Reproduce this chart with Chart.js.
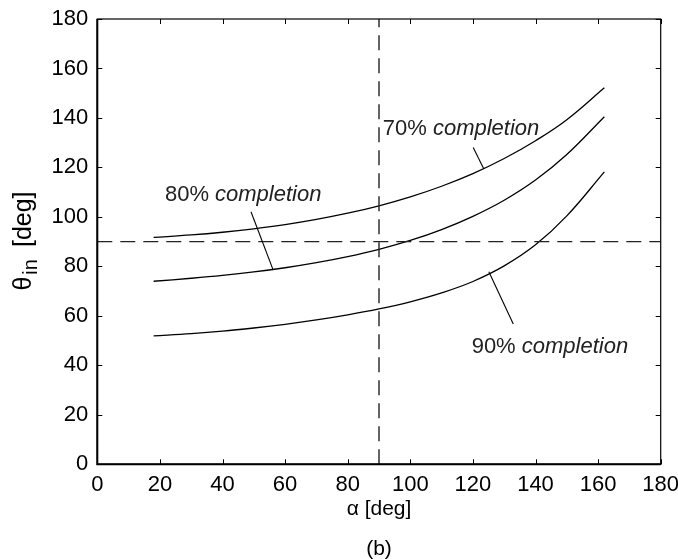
<!DOCTYPE html>
<html>
<head>
<meta charset="utf-8">
<script src="https://cdn.jsdelivr.net/npm/chart.js@4.4.1/dist/chart.umd.min.js"></script>
<style>
  html, body { margin: 0; padding: 0; background: #fff; }
</style>
</head>
<body>
<canvas id="chart" width="678" height="559"></canvas>
<script>
// incidence angle vs. alpha
var alpha = [18, 30, 40, 50, 60, 70, 80, 90, 100, 110, 120, 130, 140, 150, 162];
var theta70 = [91.7, 92.7, 93.8, 95.2, 96.9, 99.0, 101.5, 104.5, 108.1, 112.4, 117.5, 123.6, 130.8, 139.3, 152.2];
var theta80 = [74.0, 75.2, 76.35, 77.75, 79.45, 81.5, 83.95, 86.9, 90.5, 94.9, 100.25, 106.75, 114.9, 125.2, 140.5];
var theta90 = [51.9, 52.8, 53.8, 55.1, 56.6, 58.35, 60.4, 62.8, 65.7, 69.3, 73.9, 80.2, 88.7, 100.4, 118.2];
var xTicks = [0, 20, 40, 60, 80, 100, 120, 140, 160, 180];
var yTicks = [0, 20, 40, 60, 80, 100, 120, 140, 160, 180];
var refAlpha = 90;
var refTheta = 90;

// curve labels and their leader lines (data coords)
var curveLabels = [
  { pct: '70% ', word: 'completion', x: 91.2, y: 133.1, from: [120.1, 128.1], to: [123.5, 119.4] },
  { pct: '80% ', word: 'completion', x: 21.6, y: 106.5, from: [49.1, 102.1], to: [56.2, 78.5] },
  { pct: '90% ', word: 'completion', x: 119.6, y: 44.9, from: [125.1, 77.8], to: [132.9, 56.7] }
];

function pts(ys) {
  return alpha.map(function(a, i) { return { x: a, y: ys[i] }; });
}

function curve(ys) {
  return {
    data: pts(ys),
    borderColor: '#000',
    borderWidth: 1.3,
    pointRadius: 0,
    fill: false,
    tension: 0.4
  };
}

function dashed(data) {
  return {
    data: data,
    borderColor: '#222',
    borderWidth: 1.4,
    borderDash: [15, 8],
    pointRadius: 0,
    fill: false,
    tension: 0
  };
}

var FONT = '"Liberation Sans", Arial, sans-serif';

var decorations = {
  id: 'decorations',
  afterDraw: function(chart) {
    var ctx = chart.ctx;
    var a = chart.chartArea;
    var xs = chart.scales.x, ys = chart.scales.y;
    ctx.save();

    // box
    ctx.strokeStyle = '#000';
    ctx.lineWidth = 1.2;
    ctx.strokeRect(a.left, a.top, a.right - a.left, a.bottom - a.top);
    ctx.lineWidth = 2;
    ctx.beginPath();
    ctx.moveTo(a.left, a.top);
    ctx.lineTo(a.left, a.bottom);
    ctx.lineTo(a.right, a.bottom);
    ctx.stroke();

    // inward ticks on all sides
    ctx.lineWidth = 1;
    ctx.beginPath();
    xTicks.forEach(function(v) {
      var px = Math.round(xs.getPixelForValue(v)) + 0.5;
      ctx.moveTo(px, a.bottom); ctx.lineTo(px, a.bottom - 5);
      ctx.moveTo(px, a.top); ctx.lineTo(px, a.top + 5);
    });
    yTicks.forEach(function(v) {
      var py = Math.round(ys.getPixelForValue(v)) + 0.5;
      ctx.moveTo(a.left, py); ctx.lineTo(a.left + 5, py);
      ctx.moveTo(a.right, py); ctx.lineTo(a.right - 5, py);
    });
    ctx.stroke();

    // leader lines + labels
    ctx.strokeStyle = '#000';
    ctx.lineWidth = 1.1;
    ctx.fillStyle = '#222';
    ctx.textBaseline = 'alphabetic';
    ctx.textAlign = 'left';
    curveLabels.forEach(function(l) {
      ctx.beginPath();
      ctx.moveTo(xs.getPixelForValue(l.from[0]), ys.getPixelForValue(l.from[1]));
      ctx.lineTo(xs.getPixelForValue(l.to[0]), ys.getPixelForValue(l.to[1]));
      ctx.stroke();
      var px = xs.getPixelForValue(l.x), py = ys.getPixelForValue(l.y);
      ctx.font = '22px ' + FONT;
      ctx.fillText(l.pct, px, py);
      var w = ctx.measureText(l.pct).width;
      ctx.font = 'italic 22px ' + FONT;
      ctx.fillText(l.word, px + w, py);
    });

    // axis titles
    ctx.fillStyle = '#000';
    ctx.textAlign = 'center';
    ctx.font = '21px ' + FONT;
    ctx.fillText('\u03b1 [deg]', 379, 515);
    ctx.fillText('(b)', 379, 555);

    ctx.translate(31, 241);
    ctx.rotate(-Math.PI / 2);
    ctx.textAlign = 'left';
    ctx.font = '20px ' + FONT;
    var wSub = ctx.measureText('in').width;
    ctx.font = '25px ' + FONT;
    var wTh = ctx.measureText('\u03b8').width;
    var wDeg = ctx.measureText('[deg]').width;
    var gap1 = 2, gap2 = 12;
    var x0 = -(wTh + gap1 + wSub + gap2 + wDeg) / 2;
    ctx.fillText('\u03b8', x0, 0);
    ctx.font = '20px ' + FONT;
    ctx.fillText('in', x0 + wTh + gap1, 6);
    ctx.font = '25px ' + FONT;
    ctx.fillText('[deg]', x0 + wTh + gap1 + wSub + gap2, 0);

    ctx.restore();
  }
};

new Chart(document.getElementById('chart').getContext('2d'), {
  type: 'line',
  data: {
    datasets: [
      dashed([{ x: refAlpha, y: 0 }, { x: refAlpha, y: 180 }]),
      dashed([{ x: 0, y: refTheta }, { x: 180, y: refTheta }]),
      curve(theta70),
      curve(theta80),
      curve(theta90)
    ]
  },
  options: {
    responsive: false,
    animation: false,
    layout: { autoPadding: false, padding: { top: 19, right: 17.3, left: 0, bottom: 0 } },
    plugins: { legend: { display: false }, tooltip: { enabled: false } },
    scales: {
      x: {
        type: 'linear',
        min: 0, max: 180,
        afterFit: function(s) {
          s.height = 559 - 464.3;
          s.paddingLeft = 0; s.paddingRight = 0;
        },
        afterBuildTicks: function(s) { s.ticks = xTicks.map(function(v) { return { value: v }; }); },
        grid: { display: false, drawTicks: false },
        border: { display: false },
        ticks: { color: '#000', padding: 7, maxRotation: 0, font: { family: FONT, size: 22 } }
      },
      y: {
        type: 'linear',
        min: 0, max: 180,
        afterFit: function(s) {
          s.width = 97.3;
          s.paddingTop = 0; s.paddingBottom = 0;
        },
        afterBuildTicks: function(s) { s.ticks = yTicks.map(function(v) { return { value: v }; }); },
        grid: { display: false, drawTicks: false },
        border: { display: false },
        ticks: { color: '#000', padding: 9, font: { family: FONT, size: 22 } }
      }
    }
  },
  plugins: [decorations]
});
</script>
</body>
</html>
